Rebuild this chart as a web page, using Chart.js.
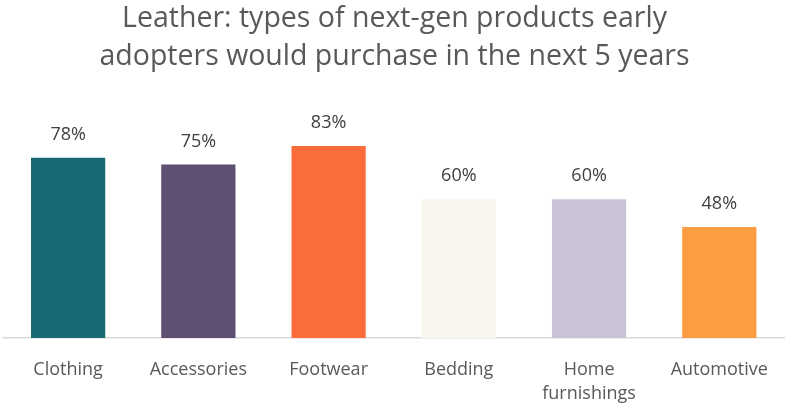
<!DOCTYPE html>
<html>
<head>
<meta charset="utf-8">
<script src="https://cdn.jsdelivr.net/npm/chart.js@4/dist/chart.umd.min.js"></script>
<style>
  html, body { margin: 0; padding: 0; background: #fff; }
  #wrap { width: 787px; height: 406px; }
</style>
</head>
<body>
<div id="wrap"><canvas id="chart"></canvas></div>
<script>
// categorias e valores (%)
const categorias = ['Clothing', 'Accessories', 'Footwear', 'Bedding', ['Home', 'furnishings'], 'Automotive'];
const valores = [78, 75, 83, 60, 60, 48];
const cores = ['#186b74', '#5f4f73', '#fa6d3b', '#f9f5ef', '#cbc4d9', '#fb9d40'];
const titulo = ['Leather: types of next-gen products early', 'adopters would purchase in the next 5 years'];

// rótulos de valor acima das barras
const rotulosValor = {
    id: 'rotulosValor',
    afterDatasetsDraw(chart) {
        const ctx = chart.ctx;
        const meta = chart.getDatasetMeta(0);
        ctx.save();
        ctx.font = '18px "Open Sans"';
        ctx.fillStyle = '#404040';
        ctx.textAlign = 'center';
        ctx.textBaseline = 'middle';
        meta.data.forEach((bar, i) => {
            ctx.fillText(valores[i] + '%', bar.x, bar.y - 23);
        });
        ctx.restore();
    }
};

const ctx = document.getElementById('chart').getContext('2d');
new Chart(ctx, {
    type: 'bar',
    data: {
        labels: categorias,
        datasets: [{
            data: valores,
            backgroundColor: cores,
            borderWidth: 0,
            categoryPercentage: 1,
            barPercentage: 0.57
        }]
    },
    options: {
        responsive: true,
        maintainAspectRatio: false,
        animation: false,
        layout: { padding: { left: 3, right: 1, top: 0, bottom: 3 } },
        plugins: {
            legend: { display: false },
            tooltip: { enabled: false },
            title: {
                display: true,
                text: titulo,
                color: '#595959',
                font: { family: 'Open Sans', size: 28.5, weight: 'normal', lineHeight: 1.33 },
                padding: { top: 0, bottom: 31 }
            }
        },
        scales: {
            x: {
                grid: { display: false, drawTicks: false },
                border: { display: true, color: '#d9d9d9', width: 1.5 },
                ticks: {
                    color: '#595959',
                    font: { family: 'Open Sans', size: 18, lineHeight: 1.38 },
                    padding: 19,
                    maxRotation: 0,
                    autoSkip: false
                },
                // altura fixa do eixo x
                afterFit(scale) { scale.height = 65; }
            },
            y: {
                display: false,
                min: 0,
                max: 100
            }
        }
    },
    plugins: [rotulosValor]
});
</script>
</body>
</html>
